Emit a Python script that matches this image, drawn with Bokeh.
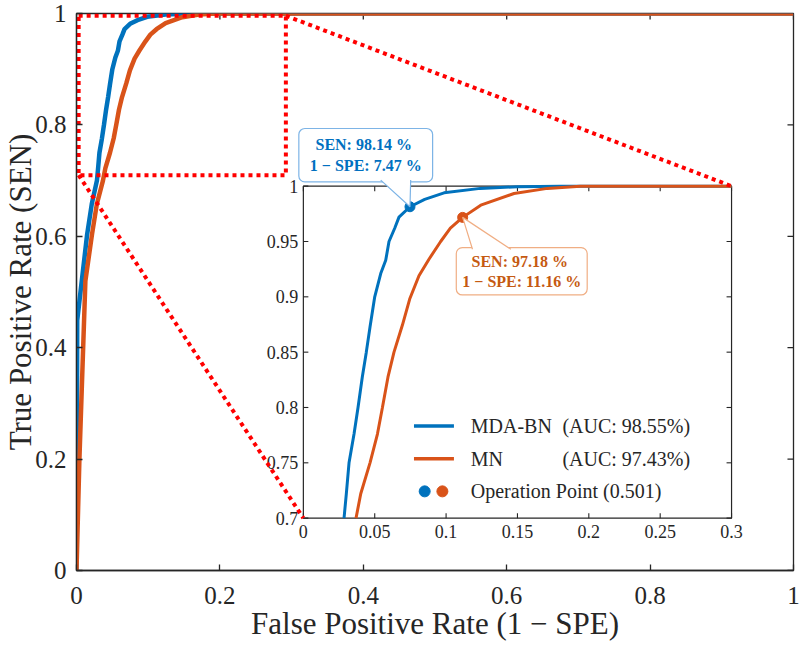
import numpy as np
from bokeh.plotting import figure
from bokeh.models import Range1d, FixedTicker
from bokeh.core.properties import value
from bokeh.embed import file_html
from bokeh.resources import INLINE

# ---------------- data ----------------
series_names = ["MDA-BN", "MN"]
auc_labels = ["(AUC: 98.55%)", "(AUC: 97.43%)"]
op_label = "Operation Point (0.501)"

mda_fpr = [0.0, 0.0005, 0.001, 0.0148, 0.0213, 0.0285, 0.0301, 0.032, 0.0355, 0.0383,
           0.0413, 0.0441, 0.0467, 0.050, 0.0542, 0.0577, 0.060, 0.064, 0.067, 0.0747,
           0.085, 0.0986, 0.124, 0.15, 0.18, 1.0]
mda_tpr = [0.0, 0.22, 0.449, 0.603, 0.658, 0.700, 0.722, 0.750, 0.776, 0.800,
           0.8276, 0.850, 0.8728, 0.900, 0.921, 0.933, 0.950, 0.962, 0.972, 0.9814,
           0.988, 0.994, 0.998, 0.9995, 1.0, 1.0]

mn_fpr = [0.0, 0.004, 0.0085, 0.0124, 0.0218, 0.0284, 0.0369, 0.0402, 0.0467, 0.0519,
          0.0554, 0.0593, 0.0635, 0.0694, 0.0745, 0.081, 0.088, 0.0962, 0.103, 0.1116,
          0.1243, 0.1476, 0.171, 0.194, 1.0]
mn_tpr = [0.0, 0.197, 0.37, 0.52, 0.605, 0.658, 0.700, 0.722, 0.750, 0.776,
          0.800, 0.8276, 0.850, 0.8745, 0.898, 0.919, 0.934, 0.950, 0.962, 0.9718,
          0.9828, 0.9934, 0.998, 1.0, 1.0]

mda_op = (0.0747, 0.9814)
mn_op = (0.1116, 0.9718)
callout_texts = ["SEN:  98.14 %\n1 \u2212 SPE: 7.47 %",
                 "SEN:  97.18 %\n1 \u2212 SPE: 11.16 %"]

main_ticks = [0, 0.2, 0.4, 0.6, 0.8, 1]
main_tick_labels = ["0", "0.2", "0.4", "0.6", "0.8", "1"]
inset_x_ticks = [0, 0.05, 0.1, 0.15, 0.2, 0.25, 0.3]
inset_x_labels = ["0", "0.05", "0.1", "0.15", "0.2", "0.25", "0.3"]
inset_y_ticks = [0.7, 0.75, 0.8, 0.85, 0.9, 0.95, 1.0]
inset_y_labels = ["0.7", "0.75", "0.8", "0.85", "0.9", "0.95", "1"]
inset_x_window = (0.0, 0.3)
inset_y_window = (0.7, 1.0)

# ---------------- layout / style ----------------
BLUE = "#0072BD"
ORANGE = "#D95319"
AX = "#262626"
SERIF = "Liberation Serif"

INSET_X_TARGET = (0.3164, 0.9136)   # inset box in main-axes data coordinates
INSET_Y_TARGET = (0.0940, 0.6900)
ZOOM_X = (0.003, 0.292)             # red dotted zoom window
ZOOM_Y = (0.7098, 0.996)

MTDX, MTDY = 0.0084, 0.0108         # mirrored main tick lengths (data units)
TDX, TDY = 0.0035, 0.0045           # inset tick lengths (inset data units)

# legend layout (inset data units)
LEG_LINE_X = (0.0775, 0.1055)
LEG_ROWS_Y = [0.7832, 0.7537, 0.7242]
LEG_TEXT_X = 0.1173
LEG_AUC_X = 0.1815
LEG_DOT_X = [0.085, 0.0974]

# callouts (inset data units)
CALLOUT_CENTER = [(0.0437, 1.028), (0.153, 0.9231)]
CALLOUT_BASE_X = [(0.0542, 0.0752), (0.1185, 0.1454)]
CALLOUT_BASE_Y = [1.0055, 0.9430]
CALLOUT_TEXT_COLOR = ["#0070C0", "#C55A11"]
CALLOUT_BORDER = ["#7DB4E6", "#F0AE84"]
CALLOUT_PAD = [dict(x=11, y=8), dict(x=6, y=5)]

p = figure(width=801, height=646, output_backend="svg", toolbar_location=None,
           x_range=Range1d(0, 1), y_range=Range1d(0, 1),
           min_border_left=76, min_border_right=8, min_border_top=13, min_border_bottom=76,
           background_fill_color="white", border_fill_color="white")
p.grid.visible = False
p.outline_line_color = AX
p.outline_line_width = 1.3

overrides = {t: l for t, l in zip(main_ticks, main_tick_labels)}

for ax in p.axis:
    ax.ticker = FixedTicker(ticks=main_ticks)
    ax.major_label_overrides = overrides
    ax.major_tick_in = 6
    ax.major_tick_out = 0
    ax.minor_tick_line_color = None
    ax.axis_line_color = AX
    ax.axis_line_width = 1.3
    ax.major_tick_line_color = AX
    ax.major_tick_line_width = 1.3
    ax.major_label_text_font = SERIF
    ax.major_label_text_color = AX
    ax.major_label_text_font_size = "25px"
    ax.axis_label_text_font = SERIF
    ax.axis_label_text_font_size = "31px"
    ax.axis_label_text_font_style = "normal"
    ax.axis_label_text_color = AX

p.xaxis.axis_label = "False Positive Rate (1 \u2212 SPE)"
p.xaxis.major_label_standoff = 16
p.xaxis.axis_label_standoff = -1
p.yaxis.axis_label = "True Positive Rate (SEN)"
p.yaxis.major_label_standoff = 10
p.yaxis.axis_label_standoff = -6

# mirrored ticks on top and right edges
nm = len(main_ticks)
p.segment(x0=main_ticks, y0=[1] * nm, x1=main_ticks, y1=[1 - MTDY] * nm,
          line_color=AX, line_width=1.3)
p.segment(x0=[1] * nm, y0=main_ticks, x1=[1 - MTDX] * nm, y1=main_ticks,
          line_color=AX, line_width=1.3)

# main curves
p.line(mda_fpr, mda_tpr, line_color=BLUE, line_width=4.5)
p.line(mn_fpr, mn_tpr, line_color=ORANGE, line_width=4.5)

# ---------------- inset ----------------
sub = p.subplot(x_source=Range1d(*inset_x_window), y_source=Range1d(*inset_y_window),
                x_target=Range1d(*INSET_X_TARGET), y_target=Range1d(*INSET_Y_TARGET))

x_lo, x_hi = inset_x_window
y_lo, y_hi = inset_y_window
sub.quad(left=[x_lo], right=[x_hi], bottom=[y_lo], top=[y_hi],
         fill_color="white", line_color=AX, line_width=1.2)

nx, ny = len(inset_x_ticks), len(inset_y_ticks)
tick_kw = dict(line_color=AX, line_width=1.1)
sub.segment(x0=inset_x_ticks, y0=[y_lo] * nx, x1=inset_x_ticks, y1=[y_lo + TDY] * nx, **tick_kw)
sub.segment(x0=inset_x_ticks, y0=[y_hi] * nx, x1=inset_x_ticks, y1=[y_hi - TDY] * nx, **tick_kw)
sub.segment(x0=[x_lo] * ny, y0=inset_y_ticks, x1=[x_lo + TDX] * ny, y1=inset_y_ticks, **tick_kw)
sub.segment(x0=[x_hi] * ny, y0=inset_y_ticks, x1=[x_hi - TDX] * ny, y1=inset_y_ticks, **tick_kw)

sub.text(x=inset_x_ticks, y=[y_lo] * nx, text=inset_x_labels, text_align="center",
         text_baseline="top", y_offset=7, text_font=value(SERIF), text_font_size="18px",
         text_color=AX)
sub.text(x=[x_lo] * ny, y=inset_y_ticks, text=inset_y_labels, text_align="right",
         text_baseline="middle", x_offset=-5, text_font=value(SERIF), text_font_size="18px",
         text_color=AX)


def clip_to_window(fpr, tpr):
    f = np.asarray(fpr, dtype=float)
    t = np.asarray(tpr, dtype=float)
    keep = (t >= y_lo) & (f <= x_hi)
    xs = list(f[keep])
    ys = list(t[keep])
    xs.append(x_hi)
    ys.append(float(np.interp(x_hi, f, t)))
    return xs, ys


for fpr, tpr, col in [(mda_fpr, mda_tpr, BLUE), (mn_fpr, mn_tpr, ORANGE)]:
    xs, ys = clip_to_window(fpr, tpr)
    sub.line(xs, ys, line_color=col, line_width=3)

for op, col in [(mda_op, BLUE), (mn_op, ORANGE)]:
    sub.scatter(x=[op[0]], y=[op[1]], size=10, fill_color=col, line_color=col)

# callouts
for i, (op, txt) in enumerate(zip([mda_op, mn_op], callout_texts)):
    cx, cy = CALLOUT_CENTER[i]
    sub.text(x=[cx], y=[cy], text=[txt], text_align="center", text_baseline="middle",
             text_font=value(SERIF), text_font_style="bold", text_font_size="16px",
             text_color=CALLOUT_TEXT_COLOR[i], text_line_height=1.2,
             background_fill_color="white", border_line_color=CALLOUT_BORDER[i],
             border_line_width=1.2, padding=CALLOUT_PAD[i], border_radius=6)
    bx0, bx1 = CALLOUT_BASE_X[i]
    by = CALLOUT_BASE_Y[i]
    sub.patch(x=[bx0, op[0], bx1], y=[by, op[1], by], fill_color="white", line_color=None)
    sub.line(x=[bx0, op[0], bx1], y=[by, op[1], by], line_color=CALLOUT_BORDER[i], line_width=1.2)

# legend
for i, col in enumerate([BLUE, ORANGE]):
    yy = LEG_ROWS_Y[i]
    sub.line(x=list(LEG_LINE_X), y=[yy, yy], line_color=col, line_width=3.5)
sub.text(x=[LEG_TEXT_X] * 3, y=LEG_ROWS_Y, text=series_names + [op_label],
         text_align="left", text_baseline="middle", text_font=value(SERIF),
         text_font_size="20px", text_color=AX)
sub.text(x=[LEG_AUC_X] * 2, y=LEG_ROWS_Y[:2], text=auc_labels,
         text_align="left", text_baseline="middle", text_font=value(SERIF),
         text_font_size="20px", text_color=AX)
sub.scatter(x=LEG_DOT_X, y=[LEG_ROWS_Y[2]] * 2, size=11, fill_color=[BLUE, ORANGE],
            line_color=[BLUE, ORANGE])

# red dotted zoom indicator
red_kw = dict(line_color="#FF0000", line_width=4, line_dash="4 4")
p.quad(left=[ZOOM_X[0]], right=[ZOOM_X[1]], bottom=[ZOOM_Y[0]], top=[ZOOM_Y[1]],
       fill_color=None, **red_kw)
p.segment(x0=[ZOOM_X[0], ZOOM_X[1]], y0=[ZOOM_Y[0], ZOOM_Y[1]],
          x1=[INSET_X_TARGET[0], INSET_X_TARGET[1]], y1=[INSET_Y_TARGET[0], INSET_Y_TARGET[1]],
          **red_kw)

open("out.html", "w").write(file_html(p, INLINE))
